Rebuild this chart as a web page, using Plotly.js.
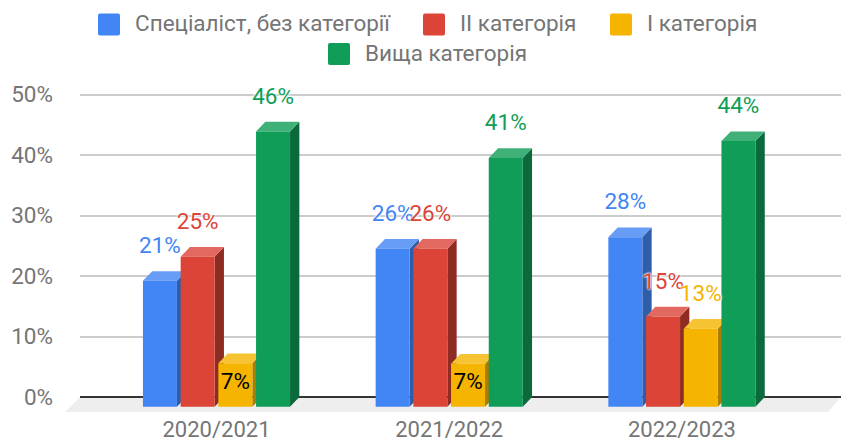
<!DOCTYPE html>
<html><head><meta charset="utf-8">
<script src="https://cdn.plot.ly/plotly-3.0.1.min.js"></script>
<style>html,body{margin:0;padding:0;background:#fff;overflow:hidden}</style>
</head><body><div id="chart" style="width:841px;height:442px"></div>
<script>
const years = ['2020/2021','2021/2022','2022/2023'];
const seriesNames = ['Спеціаліст, без категорії','II категорія','I категорія','Вища категорія'];
const specialist = [20.8,26.1,28];
const second = [24.8,26.1,14.9];
const first = [7.2,7.1,12.9];
const highest = [45.5,41.1,43.9];
const yTicks = [0,10,20,30,40,50];
const frontColors = ['#4285f4','#db4437','#f4b400','#0f9d58'];
const sideColors = ['#2e5daa','#8e2c24','#a97d00','#0a6a3b'];
const topColors = ['#689df6','#e2695f','#f6c333','#40b079'];

const W=841,H=442,mL=80,mR=0,mT=90,mB=30;
const pxX=232.7, pxY=6.05;
const x0Px=216.5, y0Px=397;
const xOf=p=>(p-x0Px)/pxX;
const xRange=[xOf(mL),xOf(W-mR)];
const yRange=[(y0Px-(H-mB))/pxY,(y0Px-mT)/pxY];
const depthX=9.3/pxX, depthY=9.7/pxY;
const slot=37.7/pxX, barW=34/pxX;
const allSeries=[specialist,second,first,highest];
const idx=years.map((_,i)=>i);
const center=(g,s)=>g+(s-1.5)*slot;

const traces=[];
// side and top faces, computed from the values
allSeries.forEach((vals,s)=>{
  const sx=[],sy=[],tx=[],ty=[];
  vals.forEach((v,g)=>{
    const l=center(g,s)-barW/2,r=center(g,s)+barW/2;
    sx.push(r,r+depthX,r+depthX,r,r,null);
    sy.push(v-depthY,v,0,-depthY,v-depthY,null);
    tx.push(l,l+depthX,r+depthX,r,l,null);
    ty.push(v-depthY,v,v,v-depthY,v-depthY,null);
  });
  traces.push({type:'scatter',mode:'lines',fill:'toself',fillcolor:sideColors[s],line:{width:0},x:sx,y:sy,hoverinfo:'skip',showlegend:false,cliponaxis:false});
  traces.push({type:'scatter',mode:'lines',fill:'toself',fillcolor:topColors[s],line:{width:0},x:tx,y:ty,hoverinfo:'skip',showlegend:false,cliponaxis:false});
});
// front faces on overlay axes, so they cover the neighbour's side face
allSeries.forEach((vals,s)=>{
  traces.push({type:'bar',name:seriesNames[s],x:idx,y:vals,base:years.map(()=>-depthY),width:barW,
    offset:(s-1.5)*slot-barW/2,marker:{color:frontColors[s],line:{width:0}},xaxis:'x2',yaxis:'y2',showlegend:false,
    hovertemplate:'%{y}%<extra>'+seriesNames[s]+'</extra>'});
});
// data labels: above the bar with a white halo, or inside a short bar in black
allSeries.forEach((vals,s)=>{
  const above=idx.filter(i=>vals[i]>=10), inside=idx.filter(i=>vals[i]<10);
  const labelTrace=(ids,lift,color,shadow)=>({type:'scatter',mode:'text',xaxis:'x2',yaxis:'y2',cliponaxis:false,hoverinfo:'skip',showlegend:false,
    x:ids.map(g=>center(g,s)),
    y:ids.map(i=>vals[i]-depthY+lift/pxY),
    text:ids.map(i=>Math.round(vals[i])+'%'),textposition:'middle center',
    textfont:{family:'Roboto',size:22.5,color,shadow}});
  if(above.length) traces.push(labelTrace(above,33.5,frontColors[s],'0 0 2px #fff, 0 0 2px #fff, 0 0 3px #fff'));
  if(inside.length) traces.push(labelTrace(inside,-20,'#000000','none'));
});

// legend rows
const legendItems=[[98,24.5,0],[423,24.5,1],[610,24.5,2],[328,54,3]];
const pX=p=>(p-mL)/(W-mL-mR);
const pY=p=>1-(p-mT)/(H-mT-mB);
const shapes=[],annotations=[];
// floor of the 3D scene, reaches past the plot area on the left
shapes.push({type:'path',xref:'paper',yref:'paper',layer:'below',fillcolor:'#eeeeee',line:{width:0},
  path:`M${pX(80)},${pY(397)}L${pX(841)},${pY(397)}L${pX(828)},${pY(412)}L${pX(65)},${pY(412)}Z`});
legendItems.forEach(([lx,cy,s])=>{
  const a=pX(lx),b=pX(lx+22),c=pY(cy-11),d=pY(cy+11),rx=2/(W-mL-mR),ry=2/(H-mT-mB);
  shapes.push({type:'path',xref:'paper',yref:'paper',fillcolor:frontColors[s],line:{width:0},
    path:`M${a+rx},${c}L${b-rx},${c}Q${b},${c} ${b},${c-ry}L${b},${d+ry}Q${b},${d} ${b-rx},${d}L${a+rx},${d}Q${a},${d} ${a},${d+ry}L${a},${c-ry}Q${a},${c} ${a+rx},${c}Z`});
  annotations.push({xref:'paper',yref:'paper',x:pX(lx+35),y:pY(cy-1),xanchor:'left',yanchor:'middle',showarrow:false,
    text:seriesNames[s],font:{family:'Roboto',size:22.5,color:'#757575'}});
});

const layout={width:W,height:H,margin:{l:mL,r:mR,t:mT,b:mB,pad:0},paper_bgcolor:'#fff',plot_bgcolor:'rgba(0,0,0,0)',showlegend:false,
  shapes,annotations,
  xaxis:{range:xRange,tickvals:idx,ticktext:years,ticks:'',showgrid:false,zeroline:false,showline:false,ticklabelstandoff:2,
    tickfont:{family:'Roboto',size:22,color:'#757575'}},
  yaxis:{range:yRange,tickvals:yTicks,ticktext:yTicks.map(t=>t+'%'),ticks:'',showgrid:true,gridcolor:'#cccccc',gridwidth:2,
    zeroline:true,zerolinecolor:'#333333',zerolinewidth:2,showline:false,ticklabelstandoff:26,
    tickfont:{family:'Roboto',size:22.5,color:'#757575'}},
  xaxis2:{range:xRange,overlaying:'x',visible:false},
  yaxis2:{range:yRange,overlaying:'y',visible:false}
};
Plotly.newPlot('chart',traces,layout,{displayModeBar:false,staticPlot:true});
</script></body></html>
